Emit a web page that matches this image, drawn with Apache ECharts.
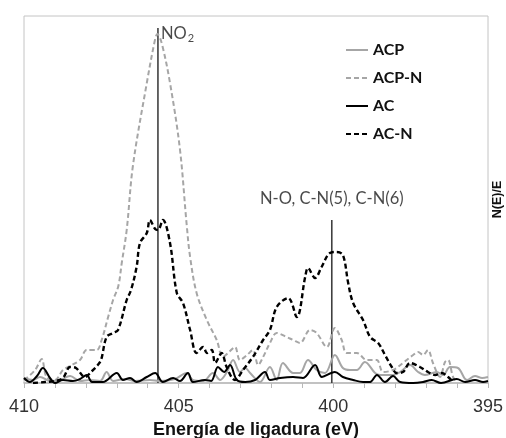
<!DOCTYPE html>
<html>
<head>
<meta charset="utf-8">
<script src="https://cdn.jsdelivr.net/npm/echarts@6/dist/echarts.min.js"></script>
<style>
  html, body { margin: 0; padding: 0; background: #fff; }
  #chart { width: 506px; height: 438px; }
</style>
</head>
<body>
<div id="chart"></div>
<script>
// binding energy (eV) vs N(E)/E (arbitrary units)
const acp = [
  [410.0, 5], [409.71, 3], [409.48, 6], [409.16, 2], [408.84, 3], [408.51, 7], [408.19, 2],
  [407.87, 3], [407.54, 2], [407.33, 11], [407.12, 2], [406.73, 4], [406.41, 2], [405.93, 3],
  [405.6, 2], [405.12, 4], [404.74, 10], [404.54, 3], [404.21, 2], [403.89, 10], [403.66, 3],
  [403.44, 11], [403.24, 23], [403.02, 11], [402.85, 15], [402.69, 10], [402.37, 1], [402.05, 16],
  [401.83, 3], [401.63, 20], [401.3, 10], [401.08, 10], [400.82, 23], [400.54, 13], [400.27, 10],
  [399.95, 28], [399.69, 15], [399.46, 13], [399.24, 13], [398.98, 21], [398.65, 10], [398.49, 8],
  [398.07, 8], [397.84, 11], [397.52, 18], [397.26, 11], [397.04, 8], [396.66, 11], [396.45, 8],
  [396.23, 16], [395.97, 15], [395.68, 3], [395.42, 7], [395.19, 5], [395.0, 6]
];

const acpN = [
  [410.0, 3], [409.64, 13], [409.43, 24], [409.27, 6], [409.0, 3], [408.74, 13], [408.51, 17],
  [408.19, 23], [407.97, 33], [407.65, 33], [407.49, 43], [407.28, 66], [407.12, 83], [406.95, 97],
  [406.84, 120], [406.68, 153], [406.48, 217], [406.03, 300], [405.76, 344], [405.69, 349],
  [405.55, 340], [405.28, 300], [404.96, 234], [404.74, 158], [404.63, 126], [404.42, 90],
  [404.09, 63], [403.77, 43], [403.57, 26], [403.37, 31], [403.18, 36], [403.02, 23], [402.79, 28],
  [402.6, 33], [402.43, 18], [402.27, 26], [402.05, 40], [401.83, 50], [401.51, 46], [401.3, 43],
  [401.08, 40], [400.75, 53], [400.54, 50], [400.21, 36], [399.95, 55], [399.73, 43], [399.57, 30],
  [399.24, 30], [398.92, 23], [398.6, 23], [398.39, 11], [398.07, 13], [397.75, 20], [397.42, 28],
  [397.26, 31], [397.1, 28], [396.94, 33], [396.78, 20], [396.55, 6], [396.39, 21], [396.29, 23],
  [396.13, 6], [396.0, 1]
];

const ac = [
  [410.0, 5], [409.81, 1], [409.58, 7], [409.39, 15], [409.16, 5], [409.0, 0], [408.74, 3],
  [408.42, 2], [408.19, 4], [407.97, 8], [407.8, 1], [407.45, 1], [407.0, 10], [406.8, 3],
  [406.57, 5], [406.36, 1], [406.03, 6], [405.76, 10], [405.51, 1], [405.18, 5], [404.96, 2],
  [404.7, 10], [404.54, 1], [404.15, 3], [403.95, 2], [403.73, 16], [403.53, 11], [403.34, 18],
  [403.12, 3], [402.85, 1], [402.53, 3], [402.21, 11], [402.05, 3], [401.72, 5], [401.3, 6],
  [400.98, 5], [400.59, 18], [400.37, 6], [399.95, 11], [399.69, 6], [399.36, 3], [399.04, 1],
  [398.81, 1], [398.59, 8], [398.33, 1], [398.07, 7], [397.84, 1], [397.42, 0], [397.1, 1],
  [396.82, 3], [396.52, 0], [396.01, 4], [395.74, 1], [395.42, 3], [395.16, 1], [395.0, 2]
];

const acN = [
  [409.71, 0], [409.32, 1], [409.0, 2], [408.74, 5], [408.51, 16], [408.32, 15], [408.03, 6],
  [407.8, 12], [407.64, 17], [407.51, 23], [407.33, 46], [407.12, 50], [406.96, 53], [406.68, 83],
  [406.54, 93], [406.36, 116], [406.25, 140], [406.03, 150], [405.93, 163], [405.76, 154],
  [405.67, 153], [405.51, 163], [405.28, 140], [405.06, 90], [404.86, 80], [404.63, 53],
  [404.42, 30], [404.21, 36], [404.08, 30], [403.93, 33], [403.82, 20], [403.61, 30], [403.45, 16],
  [403.18, 3], [402.92, 13], [402.6, 26], [402.27, 43], [402.05, 53], [401.83, 76], [401.46, 85],
  [401.18, 66], [400.91, 106], [400.82, 115], [400.59, 105], [400.38, 116], [400.11, 130],
  [399.89, 131], [399.69, 128], [399.52, 100], [399.36, 80], [399.04, 63], [398.81, 46],
  [398.55, 40], [398.33, 28], [398.11, 16], [397.95, 10], [397.75, 11], [397.52, 20], [397.2, 16],
  [396.94, 11], [396.71, 8], [396.5, 10], [396.29, 6], [396.13, 1]
];

// assignment lines
const peakE = [405.67, 400.05];
const peakTop = [355, 163];
const peakNames = ['NO{s|2}', 'N-O, C-N(5), C-N(6)'];

const xTicks = [410, 405, 400, 395];

const GRAY = '#a6a6a6';
const calibri = 'Lato, "Open Sans", sans-serif';
const arial = '"Liberation Sans", Arial, sans-serif';

const chart = echarts.init(document.getElementById('chart'), null, { renderer: 'canvas' });

function curve(name, data, color, dashed, width, z) {
  return {
    name: name,
    type: 'line',
    data: data,
    smooth: 0.35,
    symbol: 'none',
    z: z,
    lineStyle: { color: color, width: width, type: dashed ? [5, 3] : 'solid' },
    itemStyle: { color: color }
  };
}

const peakSeries = peakE.map((e, i) => ({
  type: 'line',
  data: [[e, 0], [e, peakTop[i]]],
  symbol: 'none',
  silent: true,
  z: 1,
  lineStyle: { color: '#404040', width: 1.6 }
}));

const labelSeries = {
  type: 'scatter',
  symbolSize: 0,
  silent: true,
  data: peakE.map((e, i) => ({
    value: [e, peakTop[i]],
    label: i === 0
      ? { show: true, position: 'right', distance: 3, offset: [0, 6], formatter: peakNames[i] }
      : { show: true, position: 'top', distance: 13, formatter: peakNames[i] }
  })),
  label: {
    color: '#1a1a1a', fontFamily: calibri, fontSize: 16.5,
    rich: { s: { fontFamily: calibri, fontSize: 11, padding: [9, 0, 0, 1], color: '#1a1a1a' } }
  }
};

chart.setOption({
  animation: false,
  backgroundColor: '#fff',
  grid: {
    left: 24, right: 18, top: 16, bottom: 55,
    outerBoundsMode: 'none',
    containLabel: false,
    show: true, borderColor: '#c4c4c4', borderWidth: 1
  },
  legend: {
    data: ['ACP', 'ACP-N', 'AC', 'AC-N'],
    orient: 'vertical',
    left: 340, top: 37,
    itemWidth: 22, itemHeight: 14, itemGap: 12,
    itemStyle: { color: 'rgba(0,0,0,0)', borderWidth: 0 },
    textStyle: { fontFamily: calibri, fontWeight: 'bold', fontSize: 16, color: '#111' }
  },
  xAxis: {
    type: 'value',
    min: 395, max: 410, interval: 5,
    inverse: true,
    name: 'Energía de ligadura (eV)',
    nameLocation: 'middle',
    nameGap: 37,
    nameTextStyle: { fontFamily: arial, fontWeight: 'bold', fontSize: 18, color: '#111' },
    axisLine: { lineStyle: { color: '#b8b8b8', width: 1.5 } },
    axisTick: { show: true, length: 5, lineStyle: { color: '#b8b8b8' } },
    minorTick: { show: true, splitNumber: 5, length: 5, lineStyle: { color: '#b8b8b8' } },
    splitLine: { show: false },
    axisLabel: {
      margin: 15,
      fontFamily: arial, fontSize: 18, color: '#333',
      formatter: v => xTicks.includes(v) ? String(v) : ''
    }
  },
  yAxis: {
    type: 'value',
    min: 0, max: 367,
    position: 'right',
    name: 'N(E)/E',
    nameLocation: 'middle',
    nameRotate: 90,
    nameGap: 3,
    nameTextStyle: { fontFamily: arial, fontWeight: 'bold', fontSize: 12.5, color: '#111' },
    axisLine: { show: false },
    axisTick: { show: false },
    axisLabel: { show: false },
    splitLine: { show: false }
  },
  series: [
    ...peakSeries,
    curve('ACP', acp, GRAY, false, 2, 2),
    curve('ACP-N', acpN, GRAY, true, 2, 3),
    curve('AC', ac, '#000', false, 2, 4),
    curve('AC-N', acN, '#000', true, 2.4, 5),
    labelSeries
  ]
});
</script>
</body>
</html>
